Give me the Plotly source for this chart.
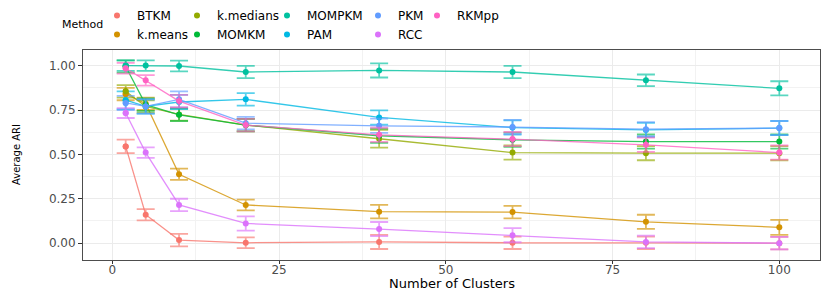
import plotly.graph_objects as go

# ---------------- data ----------------
n_clusters = [2, 5, 10, 20, 40, 60, 80, 100]
methods = ["BTKM", "k.means", "k.medians", "MOMKM", "MOMPKM", "PAM", "PKM", "RCC", "RKMpp"]

ari_btkm = [0.545, 0.160, 0.017, 0.002, 0.007, 0.002, 0.002, 0.000]
err_btkm = [0.038, 0.032, 0.035, 0.030, 0.040, 0.035, 0.035, 0.035]
ari_kmeans = [0.840, 0.785, 0.388, 0.215, 0.177, 0.175, 0.120, 0.089]
err_kmeans = [0.035, 0.035, 0.032, 0.030, 0.038, 0.035, 0.040, 0.042]
ari_kmedians = [0.855, 0.770, 0.725, 0.665, 0.588, 0.510, 0.507, 0.507]
err_kmedians = [0.035, 0.035, 0.035, 0.035, 0.050, 0.040, 0.040, 0.040]
ari_momkm = [0.995, 0.780, 0.723, 0.665, 0.605, 0.582, 0.572, 0.572]
err_momkm = [0.035, 0.035, 0.035, 0.035, 0.040, 0.040, 0.040, 0.040]
ari_mompkm = [1.000, 1.000, 0.998, 0.964, 0.973, 0.964, 0.917, 0.872]
err_mompkm = [0.030, 0.030, 0.030, 0.035, 0.040, 0.035, 0.033, 0.040]
ari_pam = [0.805, 0.770, 0.795, 0.810, 0.708, 0.651, 0.638, 0.648]
err_pam = [0.050, 0.040, 0.040, 0.035, 0.040, 0.040, 0.040, 0.040]
ari_pkm = [0.790, 0.770, 0.810, 0.676, 0.661, 0.654, 0.642, 0.648]
err_pkm = [0.040, 0.040, 0.045, 0.035, 0.040, 0.040, 0.040, 0.040]
ari_rcc = [0.733, 0.510, 0.215, 0.111, 0.079, 0.045, 0.007, 0.000]
err_rcc = [0.028, 0.030, 0.035, 0.040, 0.040, 0.040, 0.035, 0.035]
ari_rkmpp = [0.985, 0.917, 0.800, 0.665, 0.610, 0.586, 0.554, 0.510]
err_rkmpp = [0.030, 0.030, 0.035, 0.035, 0.040, 0.040, 0.040, 0.040]

colors = ["#F8766D", "#D39200", "#93AA00", "#00BA38", "#00C19F",
          "#00B9E3", "#619CFF", "#DB72FB", "#FF61C3"]

series_vals = [ari_btkm, ari_kmeans, ari_kmedians, ari_momkm, ari_mompkm,
               ari_pam, ari_pkm, ari_rcc, ari_rkmpp]
series_errs = [err_btkm, err_kmeans, err_kmedians, err_momkm, err_mompkm,
               err_pam, err_pkm, err_rcc, err_rkmpp]

# legend column assignment (ggplot fills columns top-to-bottom)
legend_ids = ["legend", "legend", "legend2", "legend2", "legend3",
              "legend3", "legend4", "legend4", "legend5"]

FONT = "DejaVu Sans"


def rgba(hex_color, a):
    h = hex_color.lstrip("#")
    r, g, b = int(h[0:2], 16), int(h[2:4], 16), int(h[4:6], 16)
    return f"rgba({r},{g},{b},{a})"


fig = go.Figure()
for name, vals, errs, col in zip(methods, series_vals, series_errs, colors):
    fig.add_trace(go.Scatter(
        x=n_clusters, y=vals, name=name, mode="lines+markers",
        line=dict(color=rgba(col, 0.8), width=1.3),
        marker=dict(color=col, size=6),
        error_y=dict(type="data", array=errs, visible=True,
                     color=rgba(col, 0.65), thickness=1.8, width=9),
        showlegend=False,
    ))

# legend entries: a marker sitting exactly on each series' first real point
for name, vals, col, lg in zip(methods, series_vals, colors, legend_ids):
    fig.add_trace(go.Scatter(
        x=n_clusters[:1], y=vals[:1], name=name, mode="markers",
        marker=dict(color=col, size=6), legend=lg, showlegend=True,
        hoverinfo="skip",
    ))

W, H = 830, 291
ml, mr, mt, mb = 83, 10, 50, 31
pw = W - ml - mr
ph = H - mt - mb

legend_left_px = [97, 177, 267, 358, 417]
legend_names = ["legend", "legend2", "legend3", "legend4", "legend5"]
legend_cfg = {}
for lname, lx in zip(legend_names, legend_left_px):
    legend_cfg[lname] = dict(
        x=lx / W, xref="container", xanchor="left",
        y=1 - 1 / H, yref="container", yanchor="top",
        orientation="v", bgcolor="rgba(0,0,0,0)",
        font=dict(family=FONT, size=12, color="#000000"),
        itemwidth=30, tracegroupgap=0, traceorder="normal",
    )

fig.update_layout(
    width=W, height=H,
    margin=dict(l=ml, r=mr, t=mt, b=mb, pad=0, autoexpand=False),
    paper_bgcolor="white", plot_bgcolor="white",
    font=dict(family=FONT, color="#000000"),
    **legend_cfg,
)

# legend title and axis titles
fig.add_annotation(
    text="Method", xref="paper", yref="paper",
    x=(105 - ml) / pw, y=1 + (mt - 24) / ph,
    xanchor="right", yanchor="middle", showarrow=False,
    font=dict(family=FONT, size=11, color="#000000"),
)
fig.add_annotation(
    text="Number of Clusters", xref="paper", yref="paper",
    x=0.5, y=-(283.5 - (H - mb)) / ph,
    xanchor="center", yanchor="middle", showarrow=False,
    font=dict(family=FONT, size=13, color="#000000"),
)
fig.add_annotation(
    text="Average ARI", xref="paper", yref="paper",
    x=(16 - ml) / pw, y=0.5, textangle=-90,
    xanchor="center", yanchor="middle", showarrow=False,
    font=dict(family=FONT, size=10, color="#000000"),
)

fig.update_xaxes(
    range=[-4.4, 106.1], tickmode="linear", tick0=0, dtick=25,
    showgrid=True, gridcolor="#EBEBEB", gridwidth=1,
    minor=dict(dtick=12.5, tick0=0, showgrid=True, gridcolor="#F2F2F2", gridwidth=0.6),
    zeroline=False, showline=True, mirror=True, linecolor="#4D4D4D", linewidth=1,
    ticks="outside", ticklen=3, tickcolor="#333333", tickwidth=1,
    ticklabelstandoff=-4,
    tickfont=dict(family=FONT, size=12, color="#4D4D4D"),
    automargin=False,
)
fig.update_yaxes(
    range=[-0.095, 1.088], tickmode="linear", tick0=0, dtick=0.25, tickformat=".2f",
    showgrid=True, gridcolor="#EBEBEB", gridwidth=1,
    minor=dict(dtick=0.125, tick0=0, showgrid=True, gridcolor="#F2F2F2", gridwidth=0.6),
    zeroline=False, showline=True, mirror=True, linecolor="#4D4D4D", linewidth=1,
    ticks="outside", ticklen=4, tickcolor="#333333", tickwidth=1,
    tickfont=dict(family=FONT, size=12, color="#4D4D4D"),
    automargin=False,
)

fig.write_html("out.html", config={"displayModeBar": False},
               post_script="document.body.style.margin='0px';")
